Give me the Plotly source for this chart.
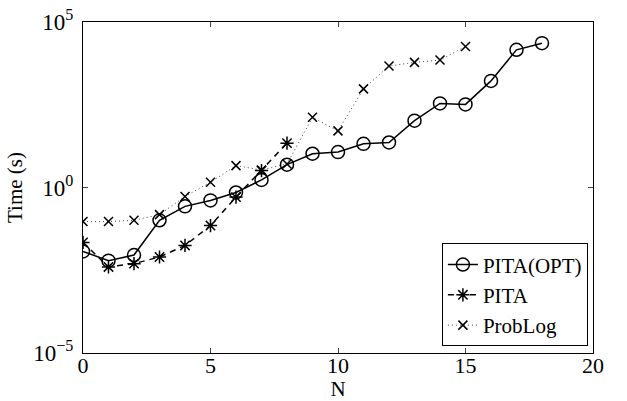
import plotly.graph_objects as go

N_opt = list(range(0, 19))
t_opt_log = [-1.93, -2.21, -2.04, -0.99, -0.57, -0.39, -0.15, 0.23, 0.69, 1.02, 1.07,
             1.32, 1.36, 2.02, 2.54, 2.51, 3.22, 4.16, 4.36]
N_pita = list(range(0, 9))
t_pita_log = [-1.66, -2.40, -2.30, -2.10, -1.75, -1.15, -0.29, 0.51, 1.34]
N_prob = list(range(0, 16))
t_prob_log = [-1.03, -1.03, -0.99, -0.82, -0.27, 0.16, 0.66, 0.53, 0.71, 2.12, 1.71,
              2.98, 3.67, 3.78, 3.85, 4.26]

t_opt = [10 ** v for v in t_opt_log]
t_pita = [10 ** v for v in t_pita_log]
t_prob = [10 ** v for v in t_prob_log]

font = "Liberation Serif"

fig = go.Figure()
fig.add_trace(go.Scatter(x=N_opt, y=t_opt, name="PITA(OPT)", mode="lines+markers",
                         line=dict(color="black", width=1.5),
                         marker=dict(symbol="circle-open", size=13, color="black",
                                     line=dict(width=1.5))))
fig.add_trace(go.Scatter(x=N_pita, y=t_pita, name="PITA", mode="lines+markers",
                         line=dict(color="black", width=1.5, dash="6px,5px"),
                         marker=dict(symbol="asterisk-open", size=11, color="black",
                                     line=dict(width=1.5))))
fig.add_trace(go.Scatter(x=N_prob, y=t_prob, name="ProbLog", mode="lines+markers",
                         line=dict(color="#444444", width=1, dash="1px,3px"),
                         marker=dict(symbol="x-thin-open", size=9, color="black",
                                     line=dict(width=1.5, color="black"))))

fig.update_layout(
    width=627, height=401,
    margin=dict(l=83, r=34, t=22, b=48),
    paper_bgcolor="white", plot_bgcolor="white",
    font=dict(family=font, size=23, color="black"),
    showlegend=True,
    legend=dict(x=0.99, y=0.02, xanchor="right", yanchor="bottom",
                bordercolor="black", borderwidth=1, bgcolor="white",
                font=dict(family=font, size=21), tracegroupgap=0, itemwidth=30),
)
fig.update_xaxes(range=[0, 20], tickvals=[0, 5, 10, 15, 20], ticks="inside", ticklen=5,
                 showline=True, linecolor="black", linewidth=1, mirror="ticks",
                 showgrid=False, zeroline=False, ticklabelstandoff=-7, automargin=False,
                 tickfont=dict(size=22),
                 title=dict(text="N", standoff=0, font=dict(family=font, size=21)))
fig.update_yaxes(type="log", range=[-5, 5], tickvals=[1e-5, 1, 1e5],
                 ticktext=["10<sup>−5</sup>", "10<sup>0</sup>", "10<sup>5</sup>"],
                 ticks="inside", ticklen=5,
                 showline=True, linecolor="black", linewidth=1, mirror="ticks",
                 showgrid=False, zeroline=False, ticklabelstandoff=4, automargin=False,
                 title=dict(text="Time (s)", standoff=4, font=dict(family=font, size=21)))

fig.write_html("out.html")
